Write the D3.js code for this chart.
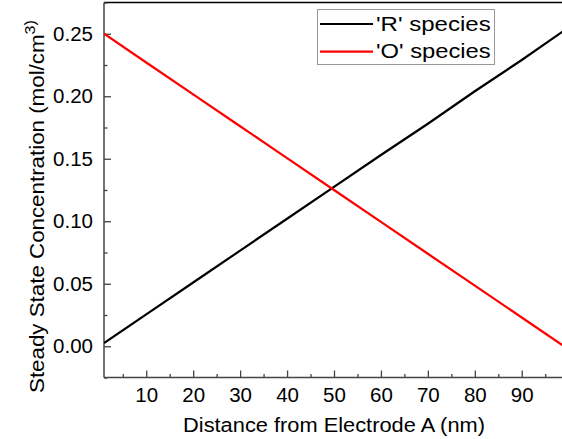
<!DOCTYPE html>
<html><head><meta charset="utf-8">
<script src="https://cdn.jsdelivr.net/npm/d3@7/dist/d3.min.js"></script>
<style>body{margin:0;background:#fff}svg{display:block}text{font-family:"Liberation Sans",Arial,sans-serif}</style>
</head><body><svg id="c" width="562" height="439"></svg>
<script>
const distance = [1, 10, 20, 30, 40, 50, 60, 70, 80, 90, 99];
const rSpecies = [0.0025, 0.0255, 0.051, 0.0765, 0.102, 0.1275, 0.153, 0.178, 0.204, 0.229, 0.2525];
const oSpecies = [0.250, 0.227, 0.2015, 0.176, 0.1505, 0.125, 0.0995, 0.074, 0.0485, 0.023, 0.0];
const xTicks = [10, 20, 30, 40, 50, 60, 70, 80, 90];
const yTicks = [0.00, 0.05, 0.10, 0.15, 0.20, 0.25];
const seriesNames = ["'R' species", "'O' species"];
const seriesColors = ["#000000", "#ff0000"];

const svg = d3.select("#c");
const L = 104, R = 564, T = 2.5, B = 377.5;
const x = d3.scaleLinear().domain([1, 99]).range([L, R]);
const y = d3.scaleLinear().domain([-0.025, 0.275]).range([B, T]);
const axisColor = "#444";
const fs = 19.5;
const FF = '"Liberation Sans",Arial,sans-serif';

function stretchTo(sel, target) {
  const w = sel.node().getBBox().width;
  return target / w;
}

// frame top
svg.append("line").attr("x1", L).attr("x2", R).attr("y1", T).attr("y2", T).attr("stroke", "#000").attr("stroke-width", 1.5);

// x axis
const xMinor = d3.range(5, 100, 5).filter(v => v % 10 !== 0);
const gx = svg.append("g").attr("transform", `translate(0,${B})`);
gx.call(d3.axisBottom(x).tickValues(xMinor).tickSize(-3.5).tickFormat(""));
gx.select(".domain").remove();
const gx2 = svg.append("g").attr("transform", `translate(0,${B})`);
gx2.call(d3.axisBottom(x).tickValues(xTicks).tickSize(-7).tickPadding(10).tickFormat(d3.format("d")));
gx2.select(".domain").remove();
svg.append("line").attr("x1", L).attr("x2", R).attr("y1", B).attr("y2", B).attr("stroke", axisColor).attr("stroke-width", 1.5);

// y axis
const yMinor = [-0.025, 0.025, 0.075, 0.125, 0.175, 0.225, 0.275];
const gy = svg.append("g").attr("transform", `translate(${L},0)`);
gy.call(d3.axisLeft(y).tickValues(yMinor).tickSize(-3.5).tickFormat(""));
gy.select(".domain").remove();
const gy2 = svg.append("g").attr("transform", `translate(${L},0)`);
gy2.call(d3.axisLeft(y).tickValues(yTicks).tickSize(-7).tickPadding(11).tickFormat(d3.format(".2f")));
gy2.select(".domain").remove();
svg.append("line").attr("x1", L).attr("x2", L).attr("y1", T).attr("y2", B).attr("stroke", axisColor).attr("stroke-width", 1.5);

svg.selectAll(".tick line").attr("stroke", axisColor).attr("stroke-width", 1.3);
svg.selectAll("g").attr("font-family", FF).attr("font-size", fs);
svg.selectAll(".tick text").attr("fill", "#000").attr("font-size", 20.5);

// lines
svg.append("clipPath").attr("id", "pc").append("rect").attr("x", L).attr("y", T).attr("width", R - L).attr("height", B - T);
const line = d3.line().x((d, i) => x(distance[i])).y(d => y(d));
[rSpecies, oSpecies].forEach((s, k) => {
  svg.append("path").datum(s).attr("d", line).attr("fill", "none")
    .attr("stroke", seriesColors[k]).attr("stroke-width", 2.2).attr("clip-path", "url(#pc)");
});

// legend
const lg = svg.append("g");
lg.append("rect").attr("x", 317.5).attr("y", 9.5).attr("width", 177).attr("height", 55)
  .attr("fill", "#fff").attr("stroke", "#999").attr("stroke-width", 1);
seriesNames.forEach((n, k) => {
  const yy = 24 + k * 27.7;
  lg.append("line").attr("x1", 320).attr("x2", 373).attr("y1", yy).attr("y2", yy)
    .attr("stroke", seriesColors[k]).attr("stroke-width", 2.2);
  const g = lg.append("g").attr("transform", `translate(376,${yy + 6.7})`);
  const t = g.append("text").attr("font-size", fs).text(n);
  g.attr("transform", `translate(376,${yy + 6.7}) scale(${stretchTo(t, 115)},1)`);
});

// x title
const xg = svg.append("g");
const xt = xg.append("text").attr("text-anchor", "middle").attr("font-size", fs).text("Distance from Electrode A (nm)");
xg.attr("transform", `translate(334,432) scale(${stretchTo(xt, 302)},1)`);

// y title
const yg = svg.append("g");
const yt = yg.append("text").attr("font-size", fs);
yt.append("tspan").text("Steady State Concentration (mol/cm");
yt.append("tspan").attr("font-size", 14).attr("dy", -9).text("3)");
yg.attr("transform", `translate(43.5,393) rotate(-90) scale(${stretchTo(yt, 373)},1)`);
</script></body></html>
